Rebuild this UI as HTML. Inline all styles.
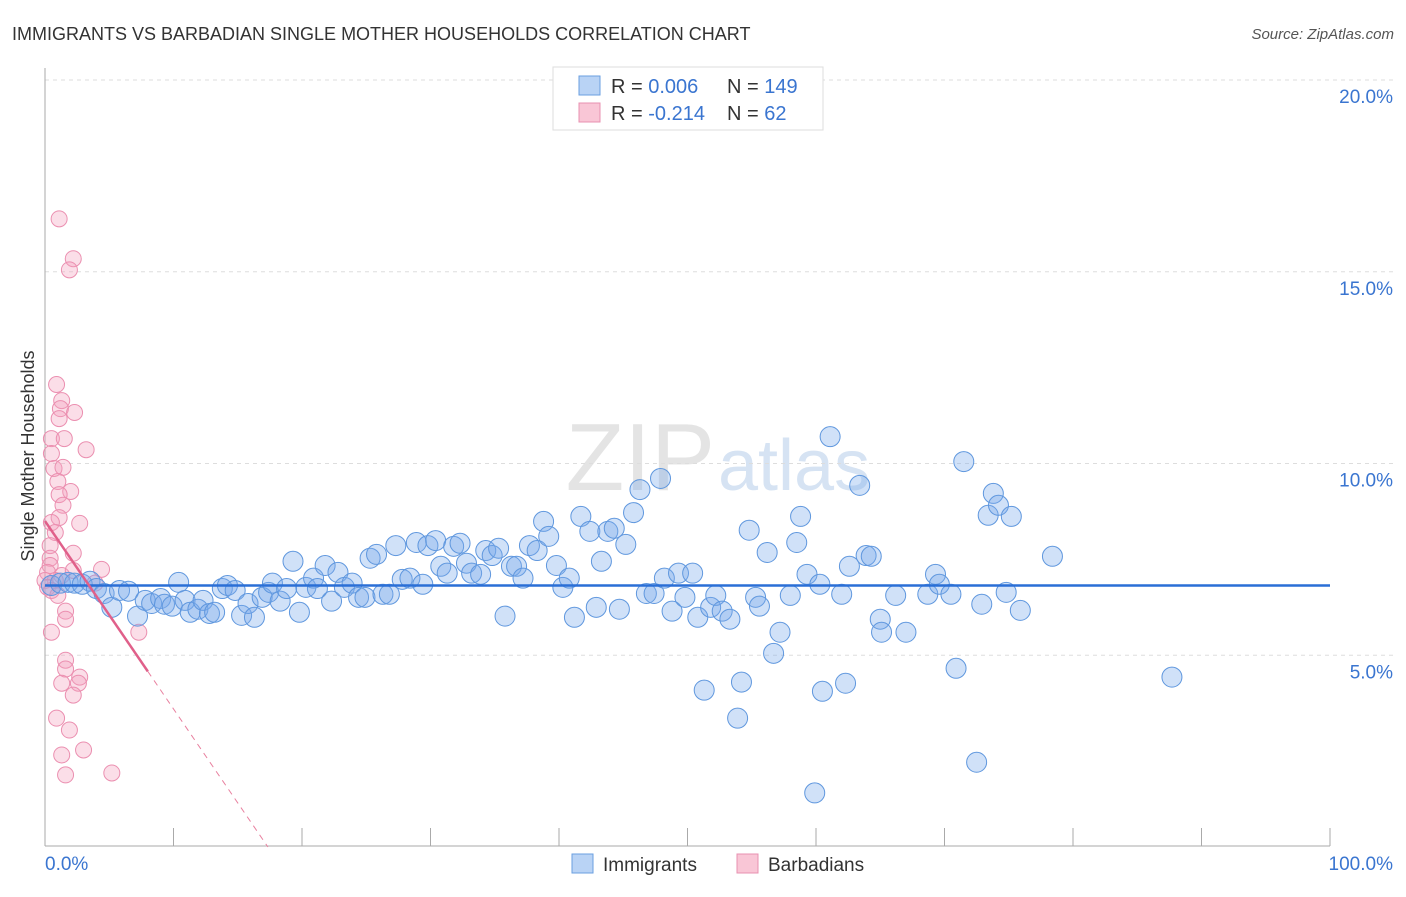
<!DOCTYPE html>
<html><head><meta charset="utf-8"><style>
body{margin:0;background:#fff;font-family:"Liberation Sans",sans-serif;}
svg text{font-family:"Liberation Sans",sans-serif;}
</style></head><body>
<svg id="chart" width="1406" height="892" xmlns="http://www.w3.org/2000/svg">
<text x="12" y="40" font-size="18" fill="#333">IMMIGRANTS VS BARBADIAN SINGLE MOTHER HOUSEHOLDS CORRELATION CHART</text>
<text x="1394" y="39" font-size="15" fill="#555" text-anchor="end" font-style="italic">Source: ZipAtlas.com</text>
<text x="715" y="490" font-size="96" fill="#e4e4e4" text-anchor="end" font-family="Liberation Serif">ZIP</text>
<text x="718" y="490" font-size="72" fill="#d6e3f3">atlas</text>
<g id="grid"></g>
<g id="pink-pts"></g>
<g id="blue-pts"></g>
<g id="trends"></g>
<text transform="translate(34,456) rotate(-90)" font-size="18" fill="#333" text-anchor="middle">Single Mother Households</text>
<g>
<rect x="553" y="67" width="270" height="63" fill="#fff" stroke="#ddd"/>
<rect x="579" y="76" width="21" height="19" fill="#b9d3f5" stroke="#6a9fe0"/>
<rect x="579" y="103" width="21" height="19" fill="#f9c6d6" stroke="#e890b0"/>
<text x="611" y="93" font-size="20" fill="#333">R = <tspan fill="#3a75d0">0.006</tspan></text>
<text x="727" y="93" font-size="20" fill="#333">N = <tspan fill="#3a75d0">149</tspan></text>
<text x="611" y="120" font-size="20" fill="#333">R = <tspan fill="#3a75d0">-0.214</tspan></text>
<text x="727" y="120" font-size="20" fill="#333">N = <tspan fill="#3a75d0">  62</tspan></text>
</g>
<g>
<rect x="572" y="854" width="21" height="19" fill="#b9d3f5" stroke="#6a9fe0"/>
<text x="603" y="871" font-size="19" fill="#333">Immigrants</text>
<rect x="737" y="854" width="21" height="19" fill="#f9c6d6" stroke="#e890b0"/>
<text x="768" y="871" font-size="19" fill="#333">Barbadians</text>
</g>
</svg>
<script>
const blueX=[0.5,1.2,1.8,2.3,2.9,3.5,4.0,4.6,5.2,5.8,6.5,7.2,7.8,8.3,9.0,9.3,9.9,10.4,10.9,11.3,11.9,12.3,12.8,13.2,13.8,14.2,14.8,15.3,15.8,16.3,16.9,17.4,17.7,18.3,18.8,19.3,19.8,20.3,20.9,21.2,21.8,22.3,22.8,23.3,23.9,24.4,24.9,25.3,25.8,26.3,26.8,27.3,27.8,28.4,28.9,29.4,29.8,30.4,30.8,31.3,31.8,32.3,32.8,33.2,33.9,34.3,34.8,35.3,35.8,36.3,36.7,37.2,37.7,38.3,38.8,39.2,39.8,40.3,40.8,41.2,41.7,42.4,42.9,43.3,43.8,44.3,44.7,45.2,45.8,46.3,46.8,47.4,47.9,48.2,48.8,49.3,49.8,50.4,50.8,51.3,51.8,52.2,52.7,53.3,53.9,54.2,54.8,55.3,55.6,56.2,56.7,57.2,58.0,58.5,58.8,59.3,59.9,60.3,60.5,61.1,62.0,62.3,62.6,63.4,63.9,64.3,65.0,65.1,66.2,67.0,68.7,69.3,69.6,70.5,70.9,71.5,72.9,73.4,73.8,74.2,74.8,75.2,75.9,78.4,87.7,72.5];
const blueY=[6.82,6.88,6.90,6.88,6.85,6.93,6.74,6.61,6.25,6.69,6.67,6.02,6.43,6.35,6.48,6.33,6.28,6.90,6.43,6.12,6.20,6.43,6.09,6.12,6.74,6.82,6.69,6.04,6.35,5.99,6.51,6.64,6.88,6.41,6.74,7.45,6.12,6.77,7.01,6.74,7.34,6.41,7.16,6.77,6.88,6.51,6.51,7.53,7.63,6.59,6.59,7.86,6.98,7.01,7.94,6.85,7.86,7.99,7.32,7.14,7.84,7.92,7.40,7.14,7.11,7.73,7.60,7.79,6.02,7.32,7.32,7.01,7.86,7.73,8.49,8.10,7.34,6.77,7.01,5.99,8.62,8.23,6.25,7.45,8.23,8.31,6.20,7.89,8.72,9.32,6.61,6.61,9.61,7.01,6.15,7.14,6.51,7.14,5.99,4.09,6.25,6.56,6.15,5.94,3.36,4.30,8.26,6.51,6.28,7.68,5.05,5.60,6.56,7.94,8.62,7.11,1.41,6.85,4.06,10.70,6.59,4.27,7.32,9.43,7.60,7.58,5.94,5.60,6.56,5.60,6.59,7.11,6.85,6.59,4.66,10.05,6.33,8.65,9.22,8.91,6.64,8.62,6.17,7.58,4.43,2.21];
const pinkX=[1.1,2.2,1.9,0.9,1.3,1.2,2.3,1.1,0.5,1.5,0.5,3.2,0.7,1.4,1.0,2.0,1.1,1.4,1.1,0.5,2.7,0.8,0.4,2.2,0.4,0.4,0.2,1.3,2.2,4.4,0.8,0.0,3.9,7.3,1.6,1.6,0.5,1.6,1.6,2.7,1.3,2.6,2.2,0.9,1.9,1.3,3.0,1.6,5.2,0.2,0.5,1.0];
const pinkY=[16.38,15.34,15.05,12.06,11.64,11.43,11.33,11.17,10.65,10.65,10.26,10.36,9.87,9.90,9.53,9.27,9.19,8.91,8.59,8.46,8.44,8.20,7.86,7.66,7.53,7.34,7.16,7.08,7.21,7.24,6.95,6.95,6.88,5.60,6.15,5.94,5.60,4.87,4.64,4.43,4.27,4.27,3.96,3.36,3.05,2.40,2.53,1.88,1.93,6.77,6.69,6.56];
const blueTrend=[6.82,0.0];   // intercept, slope
const pinkTrend=[8.5,-0.49];  // intercept, slope
const pinkSolidEnd=8.0;
const yTicks=[5,10,15,20];
const yTickLabels=["5.0%","10.0%","15.0%","20.0%"];
const xTicks=[0,10,20,30,40,50,60,70,80,90,100];
const xEndLabels=["0.0%","100.0%"];

const NS="http://www.w3.org/2000/svg";
const X=v=>45+v*12.85, Y=v=>847-v*38.35;
function mk(tag,attrs,parent){const e=document.createElementNS(NS,tag);for(const k in attrs)e.setAttribute(k,attrs[k]);parent.appendChild(e);return e;}
const grid=document.getElementById('grid');
yTicks.forEach((t,i)=>{
 const l=mk('line',{x1:45,x2:1395,y1:Y(t),y2:Y(t),stroke:'#ddd','stroke-dasharray':'4,4'},grid);
 
 
 const tx=mk('text',{x:1393,y:Y(t)+23,'font-size':19,fill:'#3a75d0','text-anchor':'end'},grid);
 tx.textContent=yTickLabels[i];
 
 
});
const ax=mk('line',{x1:45,x2:45,y1:68,y2:846,stroke:'#aaa'},grid);


const bx=mk('line',{x1:45,x2:1330,y1:846,y2:846,stroke:'#aaa'},grid);


xTicks.forEach(t=>{
 const l=mk('line',{x1:X(t),x2:X(t),y1:828,y2:846,stroke:'#aaa'},grid);
 
 
});
const xl0=mk('text',{x:45,y:870,'font-size':19,fill:'#3a75d0'},grid);xl0.textContent=xEndLabels[0];


const xl1=mk('text',{x:1393,y:870,'font-size':19,fill:'#3a75d0','text-anchor':'end'},grid);xl1.textContent=xEndLabels[1];



const pg=document.getElementById('pink-pts');
pinkX.forEach((x,i)=>{
 const c=mk('circle',{cx:X(x),cy:Y(pinkY[i]),r:8,fill:'rgba(244,160,188,0.35)',stroke:'#eb8fb0','stroke-width':1},pg);
 
 
});
const bg=document.getElementById('blue-pts');
blueX.forEach((x,i)=>{
 const c=mk('circle',{cx:X(x),cy:Y(blueY[i]),r:10,fill:'rgba(120,170,235,0.35)',stroke:'#5f97de','stroke-width':1},bg);
 
 
});
const tg=document.getElementById('trends');
const bt=mk('line',{x1:X(0),x2:X(100),y1:Y(blueTrend[0]),y2:Y(blueTrend[0]+blueTrend[1]*100),stroke:'#2a6fd6','stroke-width':2.5},tg);


const pt=mk('line',{x1:X(0),x2:X(pinkSolidEnd),y1:Y(pinkTrend[0]),y2:Y(pinkTrend[0]+pinkTrend[1]*pinkSolidEnd),stroke:'#e0608a','stroke-width':2.5},tg);


const xz=-pinkTrend[0]/pinkTrend[1];
const pd=mk('line',{x1:X(pinkSolidEnd),x2:X(xz),y1:Y(pinkTrend[0]+pinkTrend[1]*pinkSolidEnd),y2:Y(0),stroke:'#e8809f','stroke-width':1,'stroke-dasharray':'6,5'},tg);


</script>
</body></html>
